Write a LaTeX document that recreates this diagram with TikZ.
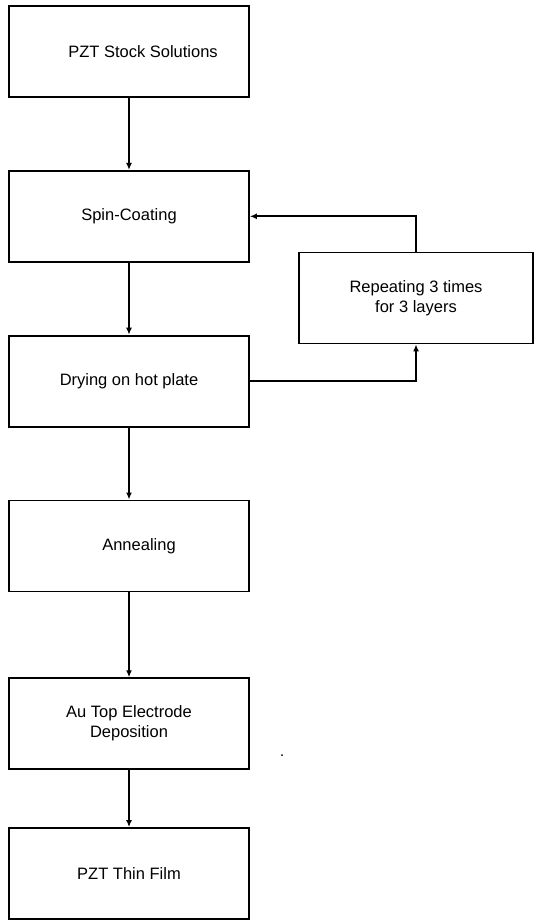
\documentclass[tikz,border=0pt]{standalone}
\usepackage{fontspec}
\setmainfont{Liberation Sans}
\usetikzlibrary{positioning,arrows.meta}

\begin{document}
\begin{tikzpicture}[
    x=1pt, y=1pt,
    node distance=72pt,
    every node/.style={font=\fontsize{16.5}{20}\selectfont},
    box/.style={draw, line width=1.8pt, minimum width=240pt, minimum height=91pt, inner sep=0pt, align=center},
    link/.style={line width=1.8pt, -{Latex[length=7pt,width=6pt]}}
]
\useasboundingbox (0,0) rectangle (535,-920);

% Process steps
\node[box] (stock) at (129,-51.5) {\hspace*{28pt}PZT Stock Solutions};
\node[box, below=of stock] (spin) {Spin-Coating};
\node[box, below=of spin] (dry) {Drying on hot plate};
\node[box, below=72pt of dry] (anneal) {\hspace*{20pt}Annealing};
\node[box, below=85pt of anneal] (elec) {Au Top Electrode\\Deposition};
\node[box, below=57pt of elec] (film) {PZT Thin Film};

% Loop
\node[box, minimum width=234pt] (loop) at (416,-298) {Repeating 3 times\\for 3 layers};

% Connections
\foreach \a/\b in {stock/spin, spin/dry, dry/anneal, anneal/elec, elec/film}
    \draw[link] (\a) -- (\b);
\draw[link] (dry.east) -| (loop.south);
\draw[link] (loop.north) |- (spin.east);

\fill (282,-755) circle (1pt);

\end{tikzpicture}
\end{document}
